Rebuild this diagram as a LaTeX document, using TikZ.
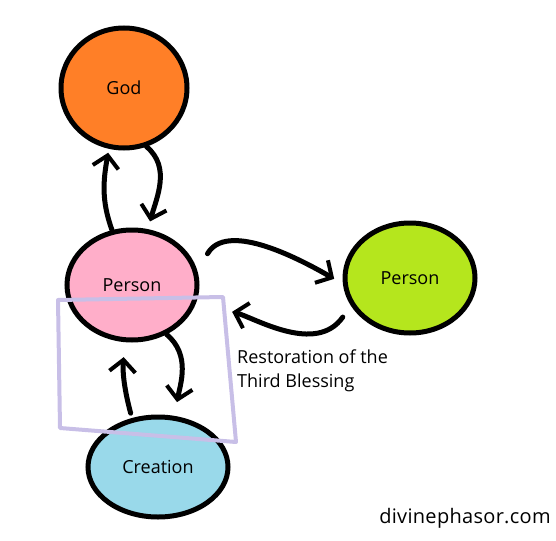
\documentclass[tikz,border=0pt]{standalone}
\usepackage{fontspec}
\setmainfont{Open Sans}
\usetikzlibrary{arrows.meta,shapes.geometric}
\definecolor{godorange}{RGB}{255,127,39}
\definecolor{selfpink}{RGB}{255,174,201}
\definecolor{otherlime}{RGB}{181,230,29}
\definecolor{worldblue}{RGB}{153,217,234}
\definecolor{framelav}{RGB}{200,191,231}

\begin{document}
\begin{tikzpicture}[
    x=1pt, y=1pt,
    >={Straight Barb[length=12pt,width=26pt,line width=4pt]},
    blob/.style={ellipse, draw=black, line width=5pt, inner sep=0pt, font=\fontsize{18}{21}\selectfont},
    flow/.style={->, draw=black, line width=5pt, line cap=round},
    frame/.style={draw=framelav, line width=4pt, line join=round},
    tag/.style={font=\fontsize{18}{24}\selectfont, align=left, inner sep=0pt},
    sig/.style={font=\fontsize{20}{24}\selectfont\addfontfeatures{LetterSpace=1.5}, inner sep=0pt},
  ]

  \useasboundingbox (0,0) rectangle (556,-540);

  % the four circles
  \node[blob, fill=godorange, minimum width=126, minimum height=120] (god) at (124,-88) {God};
  \node[blob, fill=selfpink, minimum width=130, minimum height=110] (self) at (132,-285) {Person};
  \node[blob, fill=otherlime, minimum width=130, minimum height=110] (other) at (410,-278) {Person};
  \node[blob, fill=worldblue, minimum width=140, minimum height=100] (world) at (158,-467) {Creation};

  % give and take with God
  \draw[flow, shorten >=8pt] (god.-69) to[out=-40, in=75] (self.74);
  \draw[flow, shorten >=4pt] (self.110) to[out=110, in=-100] (god.-104);

  % give and take with the other person
  \draw[flow, shorten <=20pt, shorten >=10pt] (self.12) to[out=60, in=150] (other.185);
  \draw[flow, shorten <=14pt, shorten >=37pt] (other.205) to[out=-125, in=-15] (self.-15);

  % give and take with creation
  \draw[flow, shorten >=14pt] (self.-55) to[out=-40, in=80] (world.72);
  \draw[flow, shorten <=5pt, shorten >=15pt] (world.118) to[out=105, in=-95] (self.-97);

  % the third blessing
  \draw[frame] (58,-300) -- (223,-297) -- (236,-442) -- (60,-428) -- cycle;
  \node[tag, anchor=north west] (note) at (237,-350) {Restoration of the\\Third Blessing};

  \node[sig] (site) at (465,-518) {divinephasor.com};

\end{tikzpicture}
\end{document}
